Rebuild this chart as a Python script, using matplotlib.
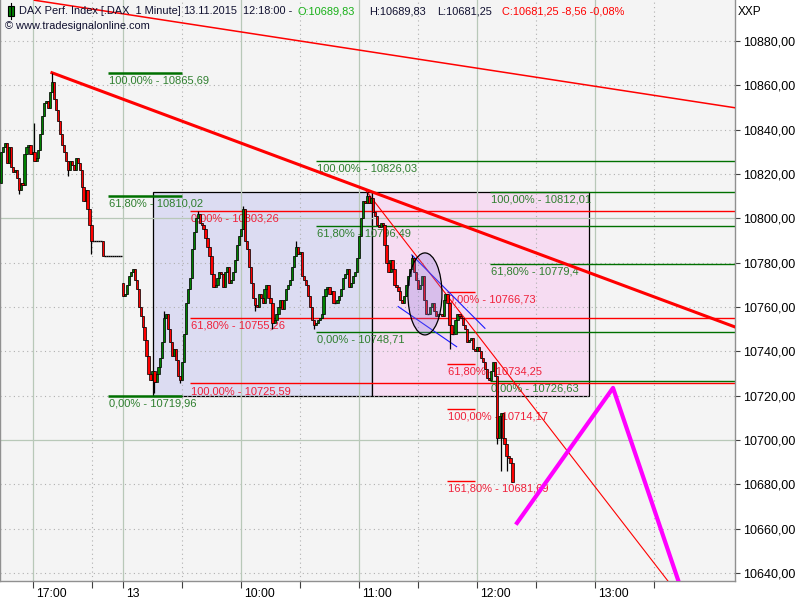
import numpy as np
import matplotlib
matplotlib.use("Agg")
import matplotlib.pyplot as plt
from matplotlib.patches import Rectangle, Ellipse
import matplotlib.transforms as mtransforms

plt.rcParams['font.family'] = ['Liberation Sans', 'DejaVu Sans']

# ---------------- data ----------------
# x positions are minutes relative to 09:00 on the 13th (previous day compressed)
day1_start = -62
day1_open0 = 10816
day1_close = [10830, 10832, 10834, 10825, 10832, 10823, 10821, 10822, 10818, 10813,
              10816, 10815, 10829, 10832, 10833, 10829, 10830, 10826, 10827, 10831,
              10838, 10846, 10852, 10853, 10850, 10857, 10861.6, 10854, 10849, 10844,
              10838, 10833, 10830, 10826, 10822, 10826, 10824, 10822, 10827, 10825,
              10822, 10814, 10808, 10813, 10804, 10797, 10790]

post_start = -15
post_close = [10790, 10790, 10790, 10790, 10790, 10783, 10783, 10783, 10783, 10783,
              10783, 10783, 10783, 10783, 10783]

day2_start = 0
day2_open0 = 10771
day2_close = [10765, 10766, 10770, 10774, 10776, 10777, 10772, 10768, 10760, 10756,
              10751, 10745, 10738, 10730, 10727, 10731, 10726, 10730, 10733, 10737,
              10744, 10755, 10757, 10750, 10744, 10738, 10741, 10736, 10729, 10727,
              10735, 10748, 10762, 10768, 10773, 10786, 10794, 10800, 10802, 10798,
              10797, 10795, 10791, 10787, 10783, 10775, 10769, 10770, 10773, 10776,
              10775, 10769, 10776, 10778, 10771, 10772, 10776, 10781, 10788, 10792,
              10795, 10804, 10790, 10786, 10778, 10771, 10764, 10761, 10760, 10766,
              10764, 10762, 10768, 10770, 10764, 10762, 10753, 10754, 10757, 10760,
              10763, 10759, 10763, 10768, 10770, 10772, 10778, 10783, 10787, 10784,
              10785, 10774, 10772, 10770, 10765, 10760, 10754, 10752, 10753, 10754,
              10755, 10757, 10765, 10768, 10769, 10766, 10767, 10762, 10762, 10763,
              10765, 10768, 10773, 10775, 10777, 10769, 10771, 10774, 10776, 10782,
              10792, 10800, 10808, 10807, 10810, 10807, 10809, 10803, 10801, 10797,
              10796, 10798, 10797, 10788, 10780, 10776, 10781, 10777, 10770, 10769,
              10767, 10763, 10762, 10765, 10770, 10774, 10777, 10782, 10776, 10772,
              10768, 10770, 10774, 10763, 10757, 10757, 10760, 10762, 10758, 10756,
              10757, 10757, 10756, 10763, 10766, 10762, 10752, 10748, 10748, 10754,
              10757, 10756, 10755, 10752, 10750, 10744, 10745, 10746, 10741, 10740,
              10742, 10740, 10737, 10735, 10732, 10728, 10727, 10731, 10735, 10729,
              10701, 10711, 10712, 10701, 10698, 10693, 10692, 10689.83, 10681.25]

wick_hi_x = [-45, -36, 21, 38, 61, 88, 124, 147]
wick_hi_v = [10843, 10865.69, 10758, 10803.3, 10805.6, 10790, 10812.01, 10783.5]
wick_lo_x = [-53, -28, -16, 16, 29, 67, 76, 97, 166, 190, 192, 195]
wick_lo_v = [10811, 10819, 10784, 10721, 10725.6, 10758, 10750, 10750, 10741, 10698, 10686, 10686]

# y axis
y_ticks = [10640, 10660, 10680, 10700, 10720, 10740, 10760, 10780, 10800, 10820, 10840, 10860, 10880]
# x axis
x_major = [-45.8, 0, 60, 120, 180, 240]
x_major_labels = ["17:00", "13", "10:00", "11:00", "12:00", "13:00"]
x_minor = [-15.8, 30, 90, 150, 210, 270]

# drawing objects
trend_thick_x = [-36.1, 311.1]
trend_thick_y = [10865.69, 10751.0]
trend_top_x = [-45.0, 311.0]
trend_top_y = [10898.4, 10849.9]
trend_thin_x = [123.5, 290.0]
trend_thin_y = [10812.5, 10621.5]
zigzag_x = [200.3, 249.1, 285.7]
zigzag_y = [10662.6, 10723.5, 10627.6]
blue_up_x = [146.8, 184.0]
blue_up_y = [10783.5, 10750.4]
blue_lo_x = [139.9, 169.6]
blue_lo_y = [10760.2, 10742.1]
rect1 = (15.3, 126.6, 10719.96, 10812.01)
rect2 = (126.6, 236.9, 10719.96, 10812.01)
ellipse_c = (153.5, 10765.9)
ellipse_wh = (17.3, 37.0)

fib_g1_levels = [10865.69, 10810.02, 10719.96]
fib_g1_labels = ["100,00% - 10865,69", "61,80% - 10810,02", "0,00% - 10719,96"]
fib_g1_span = (-7.6, 30.0)
fib_r1_levels = [10803.26, 10755.26, 10725.59]
fib_r1_labels = ["0,00% - 10803,26", "61,80% - 10755,26", "100,00% - 10725,59"]
fib_r1_start = 34.1
fib_g2_levels = [10826.03, 10796.49, 10748.71]
fib_g2_labels = ["100,00% - 10826,03", "61,80% - 10796,49", "0,00% - 10748,71"]
fib_g2_start = 98.1
fib_g3_levels = [10812.01, 10779.4, 10726.63]
fib_g3_labels = ["100,00% - 10812,01", "61,80% - 10779,4", "0,00% - 10726,63"]
fib_g3_start = 186.6
fib_r2_levels = [10766.73, 10734.25, 10714.17, 10681.69]
fib_r2_labels = ["0,00% - 10766,73", "61,80% - 10734,25", "100,00% - 10714,17", "161,80% - 10681,69"]
fib_r2_span = (164.7, 179.0)

XMIN, XMAX = -62.5, 311.1
YMIN, YMAX = 10636.4, 10898.5

# ---------------- figure ----------------
fig = plt.figure(figsize=(8, 6), dpi=100, facecolor='white')
ax = fig.add_axes([0, 19/600, 735/800, 581/600])
ax.set_facecolor('#f4f4f4')
ax.set_xlim(XMIN, XMAX)
ax.set_ylim(YMIN, YMAX)

GREEN_T = '#2f7f2f'
GREEN_L = '#007000'
RED_T = '#f0203a'
RED_L = '#ff0000'

# rectangles
for (x0, x1, y0, y1), fc in [(rect1, '#dcdcf2'), (rect2, '#f6dcf2')]:
    ax.add_patch(Rectangle((x0, y0), x1 - x0, y1 - y0, facecolor=fc,
                           edgecolor='black', lw=0.9, zorder=1))

# grid
for y in y_ticks:
    if y % 100 == 0:
        ax.axhline(y, color='#b8c8b8', lw=0.9, zorder=1.5)
    else:
        ax.axhline(y, color='#b0b0b0', lw=0.8, ls=(0, (1, 3)), zorder=1.5)
for x in x_major:
    ax.axvline(x, color='#b8c8b8', lw=0.9, zorder=1.5)
for x in x_minor:
    ax.axvline(x, color='#b0b0b0', lw=0.8, ls=(0, (1, 3)), zorder=1.5)

# fib levels
lab_off = dict(textcoords='offset points', xytext=(1, -2), va='top', ha='left',
               fontsize=8, zorder=3)
for lv, lb in zip(fib_g1_levels, fib_g1_labels):
    ax.hlines(lv, fib_g1_span[0], fib_g1_span[1], color=GREEN_L, lw=1.8, zorder=2)
    ax.annotate(lb, (fib_g1_span[0], lv), color=GREEN_T, **lab_off)
for lv, lb in zip(fib_r1_levels, fib_r1_labels):
    ax.hlines(lv, fib_r1_start, XMAX, color=RED_L, lw=1.0, zorder=2)
    ax.annotate(lb, (fib_r1_start, lv), color=RED_T, **lab_off)
for lv, lb in zip(fib_g2_levels, fib_g2_labels):
    ax.hlines(lv, fib_g2_start, XMAX, color=GREEN_L, lw=1.0, zorder=2)
    ax.annotate(lb, (fib_g2_start, lv), color=GREEN_T, **lab_off)
for lv, lb in zip(fib_g3_levels, fib_g3_labels):
    ax.hlines(lv, fib_g3_start, XMAX, color=GREEN_L, lw=1.0, zorder=2)
    ax.annotate(lb, (fib_g3_start, lv), color=GREEN_T, **lab_off)
for lv, lb in zip(fib_r2_levels, fib_r2_labels):
    ax.hlines(lv, fib_r2_span[0], fib_r2_span[1], color=RED_L, lw=1.0, zorder=2)
    ax.annotate(lb, (fib_r2_span[0], lv), color=RED_T, **lab_off)

# trend lines
ax.plot(trend_top_x, trend_top_y, color=RED_L, lw=1.1, zorder=3)
ax.plot(trend_thick_x, trend_thick_y, color=RED_L, lw=2.2, zorder=3)
ax.plot(trend_thin_x, trend_thin_y, color=RED_L, lw=0.8, zorder=3)
ax.plot(blue_up_x, blue_up_y, color='#1a1aff', lw=0.8, zorder=3)
ax.plot(blue_lo_x, blue_lo_y, color='#1a1aff', lw=0.8, zorder=3)
ax.plot(zigzag_x, zigzag_y, color='#ff00ff', lw=3.0, zorder=3)

# candles
def build(start, open0, closes):
    xs = np.arange(len(closes)) + start
    cl = np.array(closes, dtype=float)
    op = np.concatenate([[open0], cl[:-1]])
    return xs, op, cl

segs = [build(day1_start, day1_open0, day1_close),
        build(post_start, day1_close[-1], post_close),
        build(day2_start, day2_open0, day2_close)]
X = np.concatenate([s[0] for s in segs])
O = np.concatenate([s[1] for s in segs])
C = np.concatenate([s[2] for s in segs])
H = np.maximum(O, C)
L = np.minimum(O, C)
for xv, v in zip(wick_hi_x, wick_hi_v):
    i = np.where(X == xv)[0][0]
    H[i] = max(H[i], v)
for xv, v in zip(wick_lo_x, wick_lo_v):
    i = np.where(X == xv)[0][0]
    L[i] = min(L[i], v)

ax.vlines(X, L, H, color='black', lw=0.9, zorder=4)
flat = O == C
ax.hlines(O[flat], X[flat] - 0.5, X[flat] + 0.5, color='black', lw=1.0, zorder=4)
up = C > O
dn = C < O
ax.bar(X[up], C[up] - O[up], bottom=O[up], width=1.15, color='#008000',
       edgecolor='black', lw=0.5, zorder=4.5)
ax.bar(X[dn], C[dn] - O[dn], bottom=O[dn], width=1.15, color='#ff0000',
       edgecolor='black', lw=0.5, zorder=4.5)

# ellipse
ax.add_patch(Ellipse(ellipse_c, ellipse_wh[0], ellipse_wh[1],
                     facecolor=(0.55, 0.45, 0.85, 0.28), edgecolor='black',
                     lw=0.9, zorder=5))

# axes styling
ax.spines['top'].set_visible(False)
for s in ['left', 'right', 'bottom']:
    ax.spines[s].set_color('#909090')
    ax.spines[s].set_linewidth(1.0)

ax.yaxis.tick_right()
ax.set_yticks(y_ticks)
ax.set_yticklabels([f"{v:.2f}".replace('.', ',') for v in y_ticks])
ax.tick_params(axis='y', direction='out', length=3.5, width=0.8, color='#404040',
               labelsize=9, pad=2, labelcolor='black')
ax.set_xticks(x_major + x_minor)
ax.set_xticklabels([])
ax.tick_params(axis='x', direction='out', length=5, width=0.8, color='#404040')

trans = ax.get_xaxis_transform() + mtransforms.ScaledTranslation(3/100, -7/100, fig.dpi_scale_trans)
for xv, lb in zip(x_major, x_major_labels):
    ax.text(xv, 0, lb, transform=trans, ha='left', va='top', fontsize=8.8, color='black')

# header
def ftext(px, py, s, color='#101030', size=7.9):
    fig.text(px / 800, 1 - py / 600, s, color=color, fontsize=size, va='center', ha='left')

ftext(19, 11, "DAX Perf. Index [.DAX  1 Minute]")
ftext(183, 11, "13.11.2015")
ftext(243, 11, "12:18:00 -")
ftext(297, 11, "O:10689,83", color='#18b018')
ftext(369, 11, "H:10689,83")
ftext(437, 11, "L:10681,25")
ftext(502, 11, "C:10681,25 -8,56 -0,08%", color='#ff0000')
ftext(5, 26, "\u00a9 www.tradesignalonline.com")
ftext(738, 12, "XXP", color='black', size=8.5)

# small candle icon
fig.add_artist(plt.Line2D([10.5/800, 10.5/800], [1 - 3/600, 1 - 19/600], color='black', lw=0.8))
fig.add_artist(Rectangle((8/800, 1 - 16/600), 6/800, 10/600, facecolor='#008000',
                         edgecolor='black', lw=0.8, transform=fig.transFigure))

fig.savefig('out.png', dpi=100, facecolor='white')
